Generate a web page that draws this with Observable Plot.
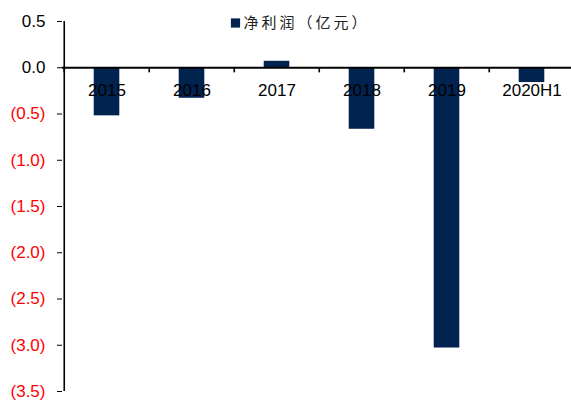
<!DOCTYPE html>
<html><head><meta charset="utf-8">
<script src="https://cdn.jsdelivr.net/npm/d3@7"></script>
<script src="https://cdn.jsdelivr.net/npm/@observablehq/plot@0.6"></script>
<style>
html,body{margin:0;padding:0;background:#fff;overflow:hidden}
svg g[font-family*="Noto"] text{letter-spacing:3px}
</style>
</head><body><div id="chart"></div>
<script>
const categories = ["2015", "2016", "2017", "2018", "2019", "2020H1"];
const netProfit = [-0.52, -0.33, 0.07, -0.665, -3.03, -0.16];
const yTicks = [0.5, 0, -0.5, -1, -1.5, -2, -2.5, -3, -3.5];
const legendLabel = "净利润（亿元）";

const data = categories.map((c, i) => ({year: c, value: netProfit[i]}));
const W = 571, H = 401, ML = 62, MR = -4;
const bw = (W - MR - ML) / categories.length;
const fmt = v => v < 0 ? `(${Math.abs(v).toFixed(1)})` : v.toFixed(1);
const navy = "#00234F";

const chart = Plot.plot({
  width: W, height: H,
  marginLeft: ML, marginRight: MR, marginTop: 21, marginBottom: 10,
  style: {fontFamily: "'Liberation Sans', Arial, sans-serif", background: "#fff", overflow: "hidden"},
  x: {domain: categories, padding: 0, axis: null},
  y: {domain: [-3.5, 0.5], ticks: yTicks, tickFormat: () => "", tickSize: 5, label: null},
  marks: [
    Plot.barY(data, {x: "year", y: "value", fill: navy, insetLeft: 29.7, insetRight: 29.7}),
    Plot.ruleY([0], {stroke: "#000", strokeWidth: 2}),
    Plot.ruleX([categories[0]], {x: d => d, dx: -bw / 2, stroke: "#000", strokeWidth: 1.6}),
    Plot.ruleX(categories, {x: d => d, y1: 0, y2: -0.055, dx: -bw / 2, stroke: "#000", strokeWidth: 1.6}),
    Plot.text(data, {x: "year", y: 0, dy: 23, text: "year", fontSize: 17, fill: "#000"}),
    Plot.text(yTicks, {y: d => d, text: fmt, frameAnchor: "left", dx: -17, textAnchor: "end", fontSize: 17,
      fill: d => d < 0 ? "#FF0000" : "#000"}),
    Plot.dot([legendLabel], {frameAnchor: "top-left", dx: 173, dy: 1.5, symbol: "square", r: 5.2, fill: navy, stroke: null}),
    Plot.text([legendLabel], {text: d => d, frameAnchor: "top-left", dx: 181, dy: 1.5, textAnchor: "start", lineAnchor: "middle",
      fontSize: 15, fill: "#222", fontFamily: "'Noto Sans CJK SC', sans-serif"})
  ]
});
document.getElementById("chart").appendChild(chart);
</script>
</body></html>
